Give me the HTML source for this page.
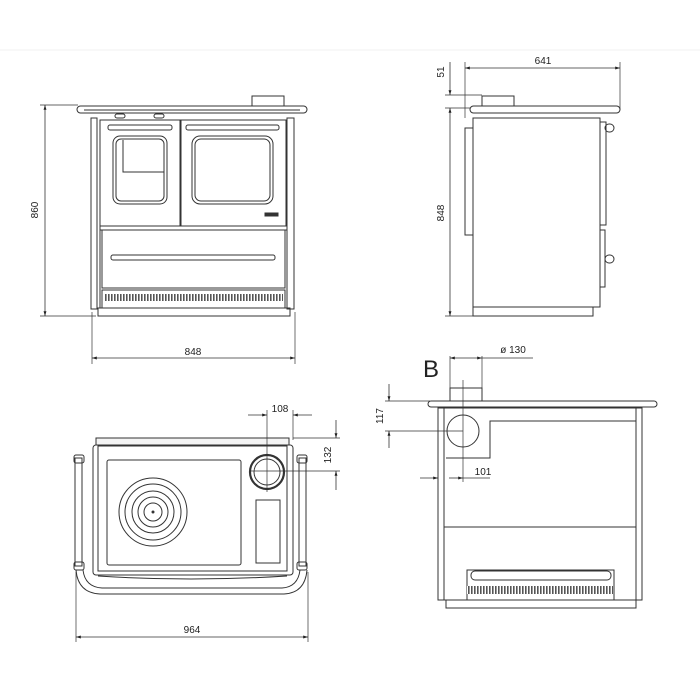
<!DOCTYPE html>
<html><head><meta charset="utf-8"><style>
html,body{margin:0;padding:0;background:#fff;}
svg{display:block;}
text{font-family:"Liberation Sans",sans-serif;font-size:10px;fill:#222;}
</style></head><body>
<svg width="700" height="700" viewBox="0 0 700 700" xmlns="http://www.w3.org/2000/svg">
<defs>
<marker id="a" viewBox="0 0 10 10" refX="10" refY="5" markerWidth="6" markerHeight="6" orient="auto-start-reverse"><path d="M0,2 L10,5 L0,8 z" fill="#222"/></marker>
<pattern id="g" width="3" height="6" patternUnits="userSpaceOnUse"><rect width="3" height="6" fill="#fff"/><rect x="0" y="0" width="1.6" height="6" fill="#555"/></pattern>
</defs>
<line x1="0" y1="50" x2="700" y2="50" stroke="#f0f0f0"/>
<g fill="none" stroke="#333" stroke-width="1">
<!-- FRONT VIEW -->
<rect x="252" y="96" width="32" height="10"/>
<rect x="77" y="106" width="230" height="7" rx="3.5"/>
<line x1="84" y1="110" x2="300" y2="110"/>
<rect x="91" y="118" width="6" height="191"/>
<rect x="287" y="118" width="7" height="191"/>
<rect x="100" y="120" width="187" height="188"/>
<rect x="100" y="120" width="80" height="106"/>
<rect x="181" y="120" width="105" height="106"/>
<rect x="113" y="136" width="54" height="68" rx="7"/>
<rect x="116" y="139" width="48" height="62" rx="5"/>
<path d="M123 140 V172 H164"/>
<rect x="192" y="136" width="81" height="68" rx="8"/>
<rect x="195" y="139" width="75" height="62" rx="6"/>
<rect x="108" y="125" width="64" height="5" rx="2"/>
<rect x="186" y="125" width="93" height="5" rx="2"/>
<rect x="115" y="114" width="10" height="4" rx="2"/>
<rect x="154" y="114" width="10" height="4" rx="2"/>
<rect x="265" y="213" width="13" height="3" fill="#333"/>
<rect x="100" y="226" width="187" height="4"/>
<rect x="102" y="230" width="183" height="58"/>
<rect x="111" y="255" width="164" height="5" rx="2"/>
<rect x="102" y="290" width="183" height="18"/>
<rect x="104" y="294" width="179" height="7" fill="url(#g)" stroke="none"/>
<rect x="98" y="308" width="192" height="8"/>
<!-- dims front -->
<line x1="40" y1="105" x2="78" y2="105" stroke-width="0.7"/>
<line x1="40" y1="316" x2="96" y2="316" stroke-width="0.7"/>
<line x1="45" y1="105" x2="45" y2="316" marker-start="url(#a)" marker-end="url(#a)" stroke-width="0.8"/>
<line x1="92" y1="312" x2="92" y2="364" stroke-width="0.7"/>
<line x1="295" y1="312" x2="295" y2="364" stroke-width="0.7"/>
<line x1="92" y1="358" x2="295" y2="358" marker-start="url(#a)" marker-end="url(#a)" stroke-width="0.8"/>

<!-- SIDE VIEW -->
<rect x="482" y="96" width="32" height="10"/>
<rect x="470" y="106" width="150" height="7" rx="3.5"/>
<rect x="473" y="118" width="127" height="189"/>
<rect x="465" y="128" width="8" height="107"/>
<rect x="473" y="307" width="120" height="9"/>
<rect x="600" y="122" width="6" height="103"/>
<rect x="600" y="230" width="5" height="57"/>
<rect x="605" y="124" width="9" height="8" rx="4"/>
<rect x="605" y="255" width="9" height="8" rx="4"/>
<line x1="465" y1="62" x2="465" y2="118" stroke-width="0.7"/>
<line x1="620" y1="62" x2="620" y2="110" stroke-width="0.7"/>
<line x1="465" y1="68" x2="620" y2="68" marker-start="url(#a)" marker-end="url(#a)" stroke-width="0.8"/>
<line x1="445" y1="95" x2="482" y2="95" stroke-width="0.7"/>
<line x1="445" y1="108" x2="470" y2="108" stroke-width="0.7"/>
<line x1="445" y1="316" x2="473" y2="316" stroke-width="0.7"/>
<line x1="450" y1="62" x2="450" y2="95" marker-end="url(#a)" stroke-width="0.8"/>
<line x1="450" y1="108" x2="450" y2="316" marker-start="url(#a)" marker-end="url(#a)" stroke-width="0.8"/>

<!-- TOP (PLAN) VIEW -->
<rect x="96" y="438" width="193" height="7" fill="#f4f4f4"/>
<rect x="93" y="445" width="200" height="130" rx="3"/>
<rect x="98" y="446" width="189" height="125"/>
<rect x="107" y="460" width="134" height="105" rx="2"/>
<circle cx="153" cy="512" r="34"/>
<circle cx="153" cy="512" r="28"/>
<circle cx="153" cy="512" r="21"/>
<circle cx="153" cy="512" r="15"/>
<circle cx="153" cy="512" r="9"/>
<circle cx="153" cy="512" r="1" fill="#333"/>
<circle cx="267" cy="472" r="17" stroke-width="2.2"/>
<circle cx="267" cy="472" r="13"/>
<rect x="256" y="500" width="24" height="63"/>
<rect x="75" y="458" width="7" height="108"/>
<rect x="299" y="458" width="7" height="108"/>
<rect x="74" y="455" width="10" height="8" rx="2"/>
<rect x="297" y="455" width="10" height="8" rx="2"/>
<rect x="74" y="562" width="10" height="8" rx="2"/>
<rect x="297" y="562" width="10" height="8" rx="2"/>
<path d="M76 570 Q78 593 100 594 H284 Q305 593 307 570"/>
<path d="M83 570 Q85 587 102 588 H282 Q298 587 300 570"/>
<path d="M98 576 Q190 582 287 576"/>
<line x1="267" y1="410" x2="267" y2="492" stroke-width="0.7"/>
<line x1="293" y1="410" x2="293" y2="440" stroke-width="0.7"/>
<line x1="248" y1="415" x2="267" y2="415" marker-end="url(#a)" stroke-width="0.8"/>
<line x1="293" y1="415" x2="312" y2="415" marker-start="url(#a)" stroke-width="0.8"/>
<line x1="293" y1="438" x2="340" y2="438" stroke-width="0.7"/>
<line x1="250" y1="471" x2="340" y2="471" stroke-width="0.7"/>
<line x1="336" y1="420" x2="336" y2="438" marker-end="url(#a)" stroke-width="0.8"/>
<line x1="336" y1="471" x2="336" y2="490" marker-start="url(#a)" stroke-width="0.8"/>
<line x1="76" y1="572" x2="76" y2="642" stroke-width="0.7"/>
<line x1="308" y1="572" x2="308" y2="642" stroke-width="0.7"/>
<line x1="76" y1="637" x2="308" y2="637" marker-start="url(#a)" marker-end="url(#a)" stroke-width="0.8"/>

<!-- BACK VIEW B -->
<rect x="450" y="388" width="32" height="13"/>
<rect x="428" y="401" width="229" height="6" rx="3"/>
<rect x="438" y="408" width="204" height="192"/>
<line x1="444" y1="408" x2="444" y2="600"/>
<line x1="636" y1="408" x2="636" y2="600"/>
<line x1="444" y1="527" x2="636" y2="527"/>
<rect x="446" y="600" width="190" height="8"/>
<circle cx="463" cy="431" r="16"/>
<path d="M446 458 H490 V421 H636"/>
<rect x="467" y="570" width="147" height="30"/>
<rect x="471" y="571" width="140" height="9" rx="4"/>
<rect x="467" y="586" width="147" height="8" fill="url(#g)" stroke="none"/>
<line x1="450" y1="356" x2="450" y2="388" stroke-width="0.7"/>
<line x1="482" y1="356" x2="482" y2="388" stroke-width="0.7"/>
<line x1="450" y1="358" x2="482" y2="358" marker-start="url(#a)" marker-end="url(#a)" stroke-width="0.8"/>
<line x1="482" y1="358" x2="533" y2="358" stroke-width="0.7"/>
<line x1="463" y1="380" x2="463" y2="482" stroke-width="0.7"/>
<line x1="385" y1="401" x2="430" y2="401" stroke-width="0.7"/>
<line x1="385" y1="431" x2="463" y2="431" stroke-width="0.7"/>
<line x1="389" y1="384" x2="389" y2="401" marker-end="url(#a)" stroke-width="0.8"/>
<line x1="389" y1="431" x2="389" y2="448" marker-start="url(#a)" stroke-width="0.8"/>
<line x1="420" y1="478" x2="438" y2="478" marker-end="url(#a)" stroke-width="0.8"/>
<line x1="463" y1="478" x2="490" y2="478" stroke-width="0.7"/>
<line x1="449" y1="478" x2="463" y2="478" marker-end="url(#a)" stroke-width="0.8"/>
</g>
<text x="38" y="210" text-anchor="middle" transform="rotate(-90 38 210)">860</text>
<text x="193" y="355" text-anchor="middle">848</text>
<text x="543" y="64" text-anchor="middle">641</text>
<text x="444" y="72" text-anchor="middle" transform="rotate(-90 444 72)">51</text>
<text x="444" y="213" text-anchor="middle" transform="rotate(-90 444 213)">848</text>
<text x="280" y="412" text-anchor="middle">108</text>
<text x="331" y="455" text-anchor="middle" transform="rotate(-90 331 455)">132</text>
<text x="192" y="633" text-anchor="middle">964</text>
<text x="423" y="377" style="font-size:24px">B</text>
<text x="513" y="353" text-anchor="middle">ø 130</text>
<text x="383" y="416" text-anchor="middle" transform="rotate(-90 383 416)">117</text>
<text x="483" y="475" text-anchor="middle">101</text>
</svg>
</body></html>
